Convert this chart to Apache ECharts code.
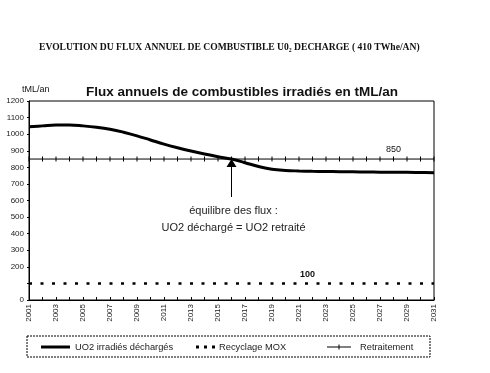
<!DOCTYPE html>
<html><head><meta charset="utf-8">
<script src="https://cdn.jsdelivr.net/npm/echarts@6/dist/echarts.min.js"></script>
<style>html,body{margin:0;padding:0;background:#fff}#c{width:490px;height:373px}</style>
</head><body><div id="c"></div>
<script>
var years = [];
for (var y = 2001; y <= 2031; y++) years.push(String(y));
var uo2 = [1045,1050,1055,1055,1050,1042,1030,1012,990,965,940,918,898,880,864,850,828,805,788,781,778,776,775,774,773,772,771,770,770,769,768];
var mox = [100,100,100,100,100,100,100,100,100,100,100,100,100,100,100,100,100,100,100,100,100,100,100,100,100,100,100,100,100,100,100];
var retraitement = [850,850,850,850,850,850,850,850,850,850,850,850,850,850,850,850,850,850,850,850,850,850,850,850,850,850,850,850,850,850,850];
var seriesNames = ['UO2 irradiés déchargés', 'Recyclage MOX', 'Retraitement'];
var yMin = 0, yMax = 1200, yStep = 100;
var hiddenYLabel = 100;
var equilibreYear = '2016', equilibreValue = 850;
var label850 = {year: '2028', value: 850, text: '850'};
var label100 = {year: '2022', value: 100, text: '100'};

var chart = echarts.init(document.getElementById('c'));
var font = '"Liberation Sans", Arial, sans-serif';
chart.setOption({
  animation: false,
  backgroundColor: '#fff',
  grid: {left: 29, right: 56, top: 101, bottom: 73, show: true, borderColor: '#000', borderWidth: 1},
  title: [
    {text: 'EVOLUTION DU FLUX ANNUEL DE COMBUSTIBLE U0\u2082 DECHARGE ( 410 TWhe/AN)', left: 34, top: 38,
     textStyle: {fontFamily: '"Liberation Serif", "DejaVu Serif", serif', fontSize: 9.6, fontWeight: 'bold', color: '#111'}},
    {text: 'Flux annuels de combustibles irradiés en tML/an', left: 81, top: 80,
     textStyle: {fontFamily: font, fontSize: 13.5, fontWeight: 'bold', color: '#111'}},
    {text: 'tML/an', left: 17, top: 80, textStyle: {fontFamily: font, fontSize: 9, fontWeight: 'normal', color: '#111'}}
  ],
  xAxis: {
    type: 'category', data: years, boundaryGap: false,
    axisLine: {lineStyle: {color: '#000', width: 1}},
    axisTick: {inside: true, length: 3, interval: 0, lineStyle: {color: '#000'}},
    axisLabel: {rotate: 90, interval: 1, fontFamily: font, fontSize: 8, color: '#222', margin: 4}
  },
  yAxis: {
    type: 'value', min: yMin, max: yMax, interval: yStep,
    axisLine: {show: true, lineStyle: {color: '#000', width: 1}},
    axisTick: {show: true, length: 2, lineStyle: {color: '#000'}},
    splitLine: {show: false},
    axisLabel: {fontFamily: font, fontSize: 8, color: '#222', margin: 5,
      formatter: function (v) { return v === hiddenYLabel ? '' : String(v); }}
  },
  series: [
    {name: seriesNames[0], type: 'line', data: uo2, smooth: 0.4, symbol: 'none',
     lineStyle: {color: '#000', width: 3}, itemStyle: {color: '#000'}},
    {name: seriesNames[1], type: 'line', data: mox, symbol: 'none',
     lineStyle: {color: '#000', width: 2.5, type: [3, 8.5]}, itemStyle: {color: '#000'}},
    {name: seriesNames[2], type: 'line', data: retraitement, symbol: 'rect', symbolSize: [1, 5], showSymbol: true,
     lineStyle: {color: '#000', width: 1}, itemStyle: {color: '#000'}}
  ]
});

var pEq = chart.convertToPixel({xAxisIndex: 0, yAxisIndex: 0}, [equilibreYear, equilibreValue]);
var p850 = chart.convertToPixel({xAxisIndex: 0, yAxisIndex: 0}, [label850.year, label850.value]);
var p100 = chart.convertToPixel({xAxisIndex: 0, yAxisIndex: 0}, [label100.year, label100.value]);
var lf = '9.3px ' + font;
var ly = 347;
chart.setOption({
  graphic: [
    {type: 'polygon', shape: {points: [[pEq[0], pEq[1]], [pEq[0] - 5, pEq[1] + 8], [pEq[0] + 5, pEq[1] + 8]]}, style: {fill: '#000'}},
    {type: 'line', shape: {x1: pEq[0], y1: pEq[1] + 8, x2: pEq[0], y2: pEq[1] + 38}, style: {stroke: '#000', lineWidth: 1}},
    {type: 'text', x: pEq[0] + 2, y: pEq[1] + 46, style: {text: 'équilibre des flux :', textAlign: 'center', font: '11px ' + font, fill: '#222'}},
    {type: 'text', x: pEq[0] + 2, y: pEq[1] + 63, style: {text: 'UO2 déchargé = UO2 retraité', textAlign: 'center', font: '11px ' + font, fill: '#222'}},
    {type: 'text', x: p850[0], y: p850[1] - 14, style: {text: label850.text, textAlign: 'center', font: '9px ' + font, fill: '#111'}},
    {type: 'text', x: p100[0] - 5, y: p100[1] - 13, style: {text: label100.text, textAlign: 'center', font: 'bold 9px ' + font, fill: '#111'}},
    {type: 'rect', shape: {x: 27, y: 336, width: 403, height: 21}, style: {fill: 'none', stroke: '#000', lineWidth: 1, lineDash: [2, 1]}},
    {type: 'line', shape: {x1: 41, y1: ly, x2: 70, y2: ly}, style: {stroke: '#000', lineWidth: 3}},
    {type: 'text', x: 75, y: ly, style: {text: seriesNames[0], textVerticalAlign: 'middle', font: lf, fill: '#222'}},
    {type: 'rect', shape: {x: 196, y: ly - 1.5, width: 3, height: 3}, style: {fill: '#000'}},
    {type: 'rect', shape: {x: 204, y: ly - 1.5, width: 3, height: 3}, style: {fill: '#000'}},
    {type: 'rect', shape: {x: 212, y: ly - 1.5, width: 3, height: 3}, style: {fill: '#000'}},
    {type: 'text', x: 219, y: ly, style: {text: seriesNames[1], textVerticalAlign: 'middle', font: lf, fill: '#222'}},
    {type: 'line', shape: {x1: 327, y1: ly, x2: 351, y2: ly}, style: {stroke: '#000', lineWidth: 1}},
    {type: 'line', shape: {x1: 339, y1: ly - 2.5, x2: 339, y2: ly + 2.5}, style: {stroke: '#000', lineWidth: 1}},
    {type: 'text', x: 360, y: ly, style: {text: seriesNames[2], textVerticalAlign: 'middle', font: lf, fill: '#222'}}
  ]
});
</script></body></html>
